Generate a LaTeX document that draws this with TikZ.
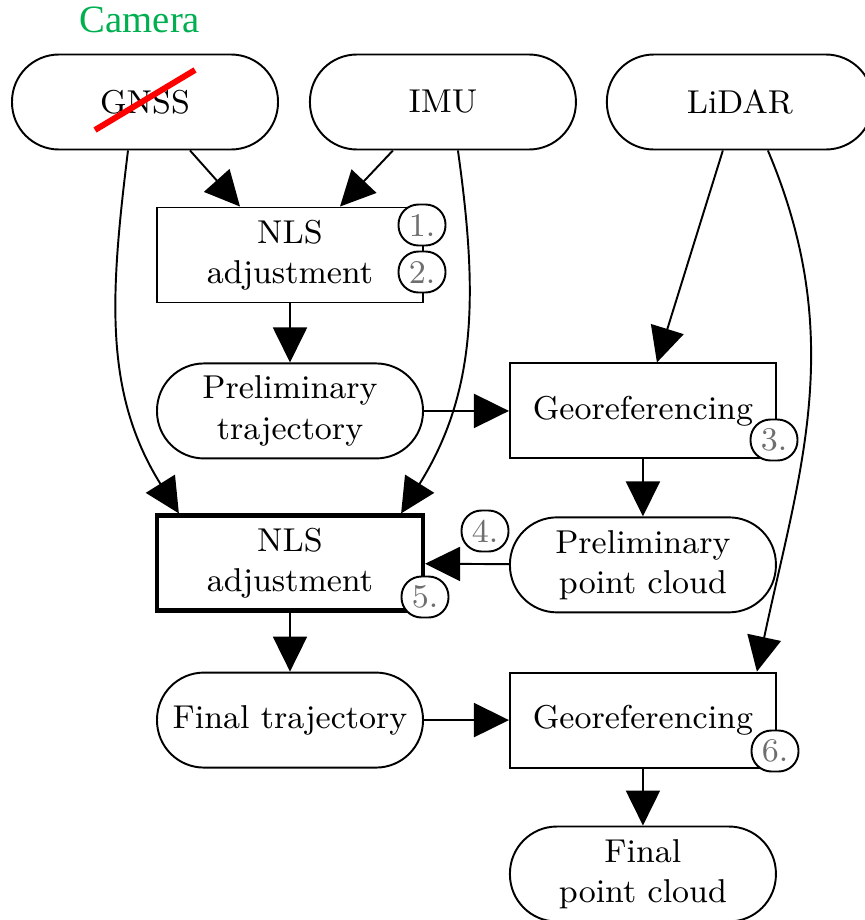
\documentclass[tikz,border=0pt]{standalone}
\usepackage{fontspec}
\usepackage{tikz}
\usepackage{xcolor}
\usetikzlibrary{arrows.meta, positioning, calc}
\newfontfamily\camfont{Liberation Serif}
\definecolor{cCam}{RGB}{0,176,80}
\definecolor{cTag}{RGB}{110,110,110}
\tikzset{
	pill/.style   ={rectangle, rounded corners=4.7mm, minimum width=26.6mm, minimum height=9.5mm, align=center, draw=black, line width=0.55pt, fill=white},
	proc/.style   ={rectangle, minimum width=26.6mm, minimum height=9.5mm, align=center, draw=black, line width=0.55pt, fill=white},
	tag/.style    ={rectangle, rounded corners=2mm, minimum width=4.7mm, minimum height=4.1mm, inner sep=0pt, draw=black, line width=0.55pt, fill=white, text=cTag},
	sig/.style    ={-{Triangle[length=3.5mm, width=3.4mm]}, line width=0.55pt},
}
\begin{document}
\begin{tikzpicture}[x=0.1mm, y=-0.1mm, every node/.style={font=\fontsize{9.4}{11.4}\selectfont}]
	\useasboundingbox (0,0) rectangle (864,920);
	% sensors
	\node[pill] (gnss) at (145,102) {GNSS};
	\node[pill, right=3mm of gnss] (imu) {IMU};
	\node[pill, right=2.9mm of imu] (lidar) {LiDAR};
	\node[font=\camfont\fontsize{11}{13}\selectfont, text=cCam] (cam) at (140,20) {Camera};
	\draw[red, line width=1.7pt] (95,130) -- (195,70);
	% left column
	\node[proc] (nlsA) at (290,255) {NLS\\adjustment};
	\node[pill, below=5.9mm of nlsA] (ptraj) {Preliminary\\trajectory};
	\node[proc, below=5.4mm of ptraj, line width=1.2pt] (nlsB) {NLS\\adjustment};
	\node[pill, below=5.9mm of nlsB] (ftraj) {Final trajectory};
	% right column
	\node[proc, right=8.5mm of ptraj] (geoA) {Georeferencing};
	\node[pill, below=5.7mm of geoA] (pcloud) {Preliminary\\point cloud};
	\node[proc, right=8.5mm of ftraj] (geoB) {Georeferencing};
	\node[pill, below=5.7mm of geoB] (fcloud) {Final\\point cloud};
	% connectors
	\draw[sig] ([xshift=4.5mm]gnss.south) -- ([xshift=-5mm]nlsA.north);
	\draw[sig] ([xshift=-5mm]imu.south) -- ([xshift=5mm]nlsA.north);
	\draw[sig] (nlsA) -- (ptraj);
	\draw[sig] ([xshift=-1.7mm]gnss.south) to[out=-97, in=122] ([xshift=2.4mm]nlsB.north west);
	\draw[sig] ([xshift=1.5mm]imu.south) to[out=-82, in=58] ([xshift=-2.4mm]nlsB.north east);
	\draw[sig] (ptraj) -- (geoA);
	\draw[sig] ([xshift=-1.7mm]lidar.south) -- ([xshift=1.4mm]geoA.north);
	\draw[sig] ([xshift=2.8mm]lidar.south) to[out=-67, in=78] ([xshift=-2mm]geoB.north east);
	\draw[sig] (geoA) -- (pcloud);
	\draw[sig] (pcloud) -- (nlsB);
	\draw[sig] (nlsB) -- (ftraj);
	\draw[sig] (ftraj) -- (geoB);
	\draw[sig] (geoB) -- (fcloud);
	% step numbers
	\node[tag] (t1) at (422,225) {1.};
	\node[tag] (t2) at (422,272) {2.};
	\node[tag] (t3) at (774,440) {3.};
	\node[tag] (t4) at (485,531) {4.};
	\node[tag] (t5) at (425,597) {5.};
	\node[tag] (t6) at (775,751) {6.};
\end{tikzpicture}
\end{document}
